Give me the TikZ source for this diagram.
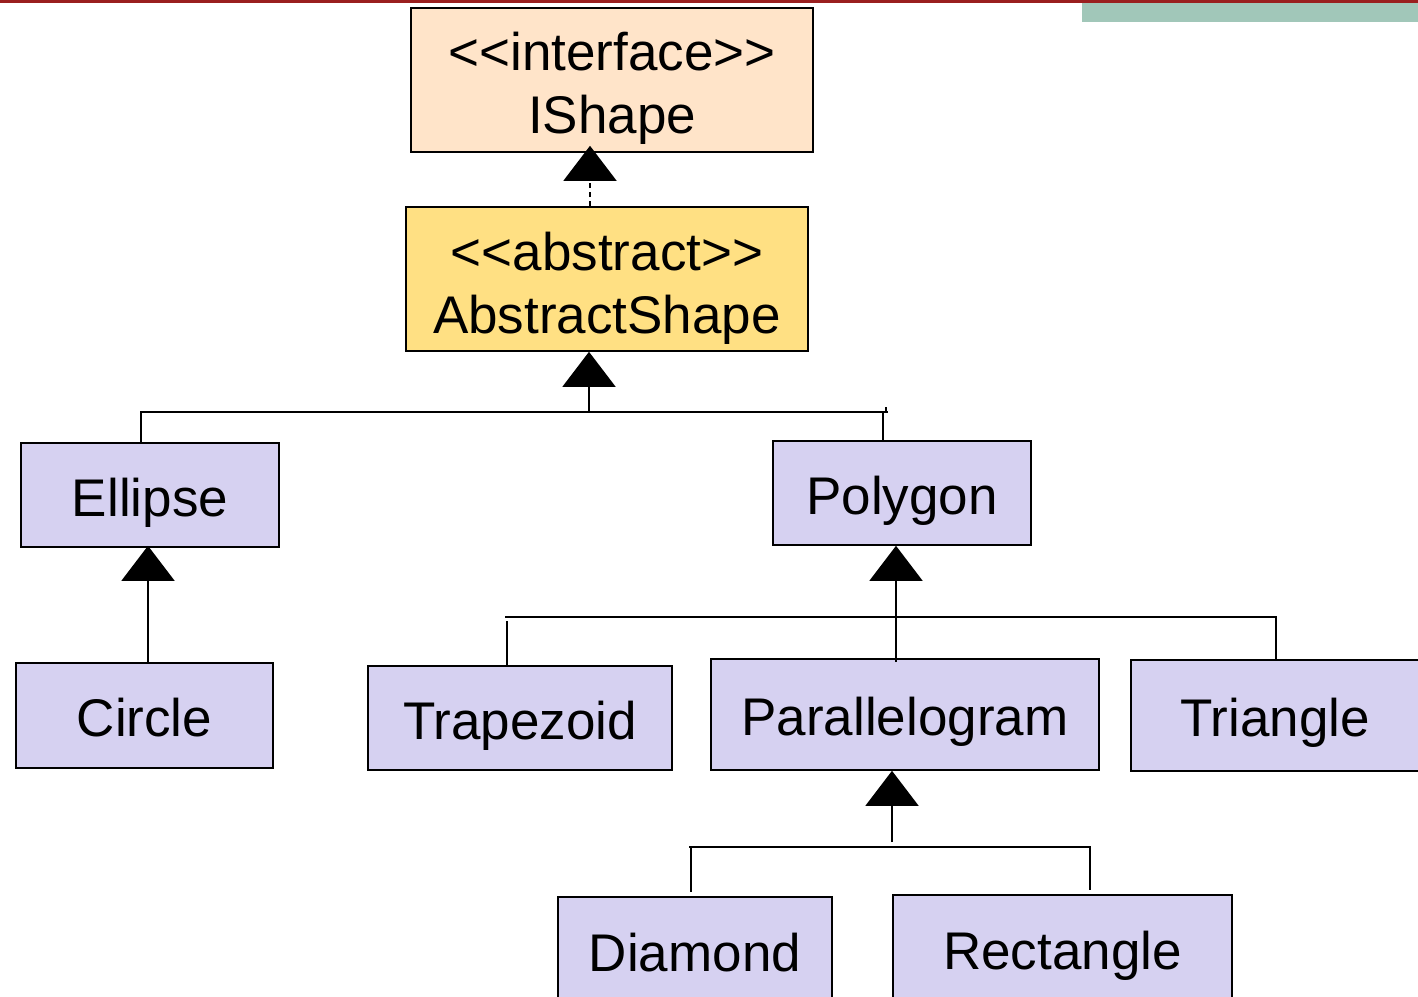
\documentclass[tikz,border=0pt]{standalone}
\usepackage{fontspec}
\setmainfont{Liberation Sans}
\usetikzlibrary{arrows.meta}
\definecolor{peachfill}{HTML}{FFE4C9}
\definecolor{goldfill}{HTML}{FFE083}
\definecolor{lavfill}{HTML}{D6D1F1}
\definecolor{bandteal}{HTML}{A1C7B9}
\definecolor{bandred}{HTML}{9A1F1F}
\begin{document}
\begin{tikzpicture}[x=1pt,y=-1pt,
  cls/.style={draw=black, line width=1.6pt, inner sep=0pt, fill=lavfill,
    font=\fontsize{53}{61}\selectfont, text height=54pt, text depth=12pt},
  lbl/.style={inner sep=0pt, anchor=base, font=\fontsize{53}{61}\selectfont},
  conn/.style={line width=1.6pt},
  inherit/.style={conn, -{Triangle[length=35pt,width=53pt]}},
]
\useasboundingbox (0,0) rectangle (1418,996);
\clip (0,0) rectangle (1418,996);

% page header bands
\fill[bandteal] (1082,0) rectangle (1418,22);
\fill[bandred] (0,0) rectangle (1418,2.5);

% interface and abstract class
\node[cls, fill=peachfill, minimum width=402pt, minimum height=144pt] (ishape) at (612,80) {};
\node[lbl] (ishapeA) at (612,70) {<{}<interface>{}>};
\node[lbl] (ishapeB) at (612,133) {IShape};

\node[cls, fill=goldfill, minimum width=402pt, minimum height=144pt] (abs) at (607,279) {};
\node[lbl] (absA) at (607,270) {<{}<abstract>{}>};
\node[lbl] (absB) at (607,333) {AbstractShape};

% concrete classes
\node[cls, minimum width=258pt, minimum height=104pt] (ellipse) at (150,495) {Ellipse};
\node[cls, minimum width=258pt, minimum height=104pt] (polygon) at (902,493) {Polygon};
\node[cls, minimum width=257pt, minimum height=105pt] (circle) at (144.5,715.5) {Circle};
\node[cls, minimum width=304pt, minimum height=104pt] (trap) at (520,718) {Trapezoid};
\node[cls, minimum width=388pt, minimum height=111pt] (para) at (905,714.5) {Parallelogram};
\node[cls, minimum width=288pt, minimum height=111pt] (tri) at (1275,715.5) {Triangle};
\node[cls, minimum width=274pt, minimum height=106pt] (diamond) at (695,950) {Diamond};
\node[cls, minimum width=339pt, minimum height=106pt] (rect) at (1062.5,948) {Rectangle};

% bus coordinates
\coordinate (r0) at (590,194);
\coordinate (b1) at (589,412);
\coordinate (b1l) at (141,412);
\coordinate (b1r) at (883,412);
\coordinate (b2) at (896,617);
\coordinate (b2l) at (507,617);
\coordinate (b2r) at (1276,617);
\coordinate (e1) at (148,600);
\coordinate (b3) at (892,842);
\coordinate (b3l) at (691,847);
\coordinate (b3r) at (1090,847);

% AbstractShape realizes IShape
\draw[inherit, dash pattern=on 5pt off 4pt] (abs.north -| r0) -- ([yshift=7pt]ishape.south -| r0);

% AbstractShape subclasses
\draw[inherit] (b1) -- (abs.south -| b1);
\draw[conn] (140,412) -- (888,412);
\draw[conn] (886,407) -- (886,412);
\draw[conn] (b1l) -- (ellipse.north -| b1l);
\draw[conn] (b1r) -- (polygon.north -| b1r);

% Ellipse subclass
\draw[inherit] (circle.north -| e1) -- ([yshift=2pt]ellipse.south -| e1);

% Polygon subclasses
\draw[inherit] ([yshift=-4pt]para.north -| b2) -- (polygon.south -| b2);
\draw[conn] (505,617) -- (1276.8,617);
\draw[conn, shorten <=4pt] (b2l) -- (trap.north -| b2l);
\draw[conn] (b2r) -- (tri.north -| b2r);

% Parallelogram subclasses
\draw[inherit] (b3) -- (para.south -| b3);
\draw[conn] (689,847) -- (1090.8,847);
\draw[conn, shorten >=4pt] (b3l) -- (diamond.north -| b3l);
\draw[conn, shorten >=4pt] (b3r) -- (rect.north -| b3r);
\end{tikzpicture}
\end{document}
